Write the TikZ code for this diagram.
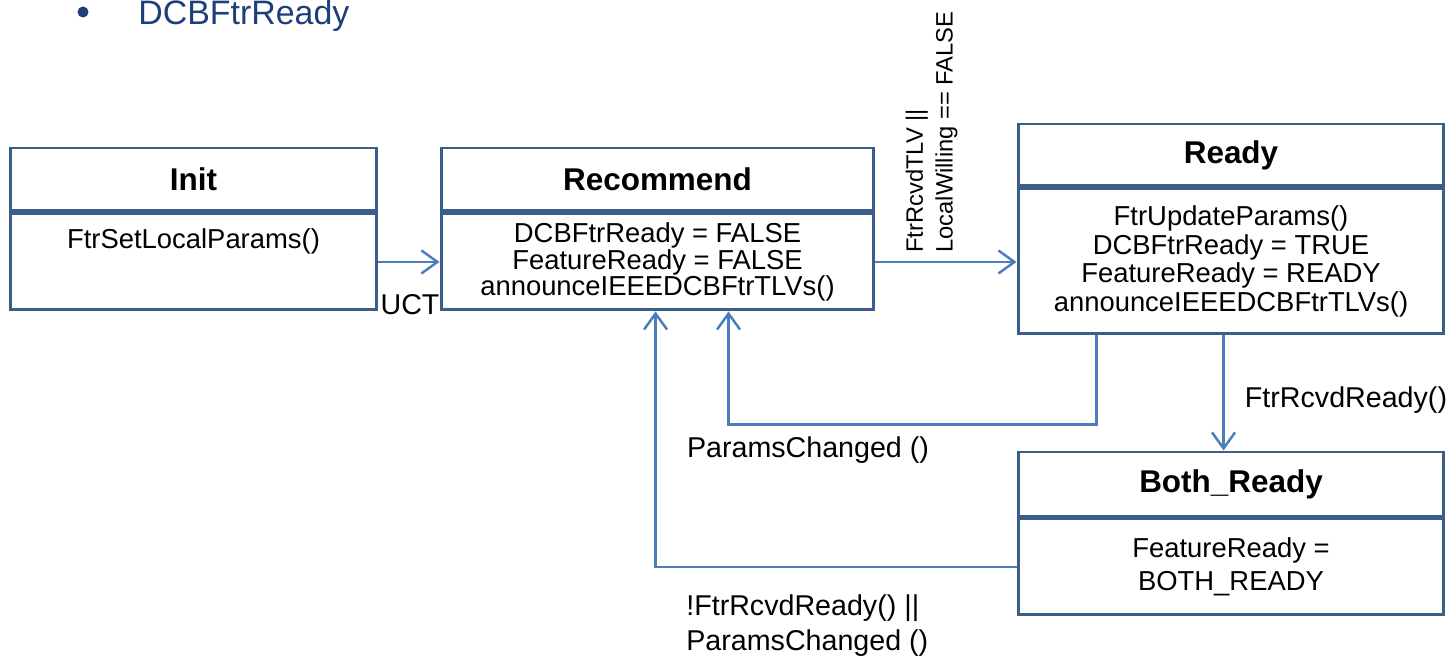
\documentclass[tikz,border=0pt]{standalone}
\usepackage{fontspec}
\setmainfont{Liberation Sans}
\usetikzlibrary{arrows.meta,positioning,calc}
\definecolor{boxblue}{HTML}{3B5E8C}
\definecolor{flowblue}{HTML}{4A7EBB}
\definecolor{bullblue}{HTML}{1F3F7A}
\begin{document}
\begin{tikzpicture}[
    x=0.02cm, y=-0.02cm,
    every node/.style={align=center},
    state title/.style={draw=boxblue, line width=1.7pt, font=\fontsize{17.9}{20}\selectfont\bfseries},
    state body/.style={draw=boxblue, line width=1.7pt, font=\fontsize{15.6}{16.4}\selectfont, below=0pt of #1},
    flow/.style={draw=flowblue, line width=1.4pt, -{Straight Barb[length=3.2mm,width=4.6mm]}},
    guard/.style={font=\fontsize{16.3}{19.8}\selectfont, inner sep=0pt},
    ]
\useasboundingbox (0,0) rectangle (1454,658);
\node (bullet) [circle, fill=bullblue, inner sep=0pt, minimum size=0.22cm] at (83,12) {};
\node (bulletText) [text=bullblue, font=\fontsize{19.3}{20}\selectfont, anchor=base west, inner sep=0pt] at (138,25) {DCBFtrReady};
\node (initTitle) [state title, minimum width=7.34cm, minimum height=1.26cm] at (193.5,179.5) {Init};
\node (initBody) [state body=initTitle, minimum width=7.34cm, minimum height=1.92cm] {FtrSetLocalParams()\\[10pt]\mbox{}};
\node (recTitle) [state title, minimum width=8.66cm, minimum height=1.26cm] at (657.5,179.5) {Recommend};
\node (recBody) [state body=recTitle, minimum width=8.66cm, minimum height=1.92cm, font=\fontsize{15.6}{15}\selectfont] {DCBFtrReady = FALSE\\FeatureReady = FALSE\\announceIEEEDCBFtrTLVs()};
\node (readyTitle) [state title, minimum width=8.52cm, minimum height=1.24cm] at (1231,155) {Ready};
\node (readyBody) [state body=readyTitle, minimum width=8.52cm, minimum height=2.9cm] {FtrUpdateParams()\\DCBFtrReady = TRUE\\FeatureReady = READY\\announceIEEEDCBFtrTLVs()};
\node (bothTitle) [state title, minimum width=8.52cm, minimum height=1.28cm] at (1231,484) {Both\_Ready};
\node (bothBody) [state body=bothTitle, minimum width=8.52cm, minimum height=1.92cm, font=\fontsize{15.6}{18.7}\selectfont] {FeatureReady =\\BOTH\_READY};
\draw[flow] (initBody.east) -- (recBody.west);
\node (uct) [guard] at (410,305) {UCT};
\draw[flow] (recBody.east) -- (recBody.east -| readyBody.west);
\node (tlvGuard) [guard, font=\fontsize{13.5}{17}\selectfont, rotate=90, align=left, anchor=south west] at (958,253) {FtrRcvdTLV ||\\LocalWilling == FALSE};
\draw[flow] ($(readyBody.south west)+(80,0)$) -- ++(0,89) -| ($(recBody.south west)+(289,0)$);
\node (changedGuard) [guard] at (808,450) {ParamsChanged ()};
\draw[flow] ($(readyBody.south west)+(207,0)$) -- ($(bothTitle.north west)+(207,0)$);
\node (rcvdGuard) [guard] at (1346,400) {FtrRcvdReady()};
\draw[flow] (bothBody.west) -| ($(recBody.south west)+(216,0)$);
\node (lostGuard) [guard, align=left, anchor=west] at (686,625.5) {!FtrRcvdReady() ||\\ParamsChanged ()};
\end{tikzpicture}
\end{document}
